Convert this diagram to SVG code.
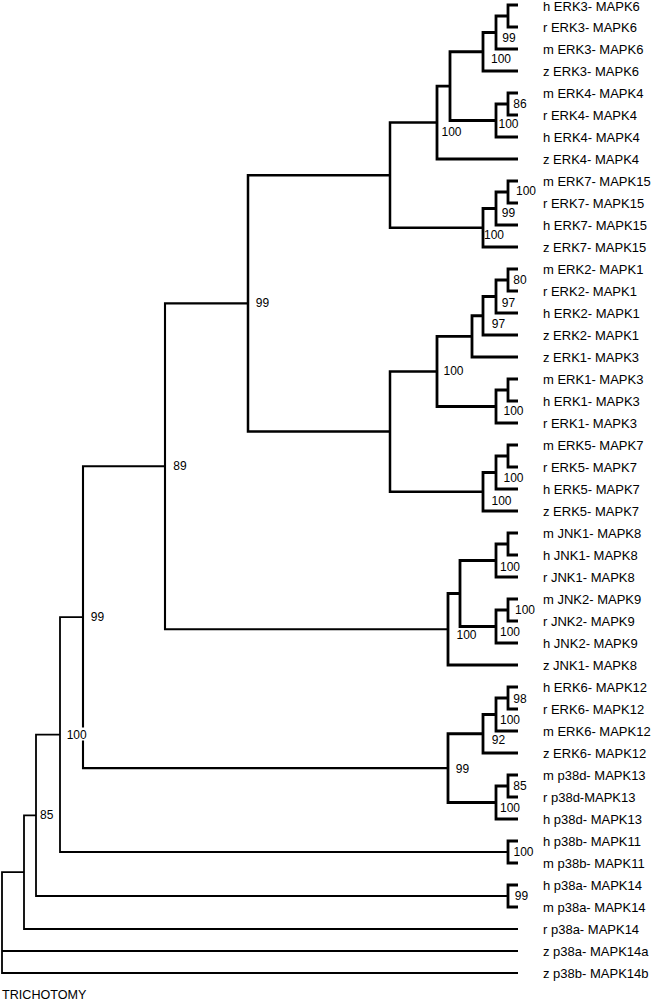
<svg xmlns="http://www.w3.org/2000/svg" width="652" height="1000" viewBox="0 0 652 1000">
<style>
  .c path { fill: none; stroke: #000; stroke-linejoin: miter; stroke-linecap: butt; }
  .t { stroke-width: 2.8; }
  .m { stroke-width: 2.5; }
  .s { stroke-width: 2.1; }
  .b { stroke-width: 1.8; }
  .leaf text { font-family: "Liberation Sans", Arial, sans-serif; font-size: 13px; fill: #000; }
  .bs text { font-family: "Liberation Sans", Arial, sans-serif; font-size: 12px; fill: #000; text-anchor: middle; }
  .note { font-family: "Liberation Sans", Arial, sans-serif; font-size: 12.6px; fill: #000; }
</style>
<rect width="652" height="1000" fill="#fff"/>
<g id="connectors" class="c">
  <path class="t" d="M518 5 H508 V27 H518"/>
  <path class="t" d="M508 16 H496 V49 H518"/>
  <path class="t" d="M496 32.5 H483 V71 H518"/>
  <path class="t" d="M518 93 H508 V115 H518"/>
  <path class="t" d="M508 104 H496 V137 H518"/>
  <path class="t" d="M483 51.75 H450 V120.5 H496"/>
  <path class="t" d="M450 86.1 H437 V159 H518"/>
  <path class="t" d="M518 181 H508 V203 H518"/>
  <path class="t" d="M508 192 H496 V225 H518"/>
  <path class="t" d="M496 208.5 H483 V247 H518"/>
  <path class="m" d="M437 122.6 H390 V227.75 H483"/>
  <path class="t" d="M518 269 H508 V291 H518"/>
  <path class="t" d="M508 280 H496 V313 H518"/>
  <path class="t" d="M496 296.5 H483 V335 H518"/>
  <path class="t" d="M483 315.75 H472 V357 H518"/>
  <path class="t" d="M518 379 H508 V401 H518"/>
  <path class="t" d="M508 390 H496 V423 H518"/>
  <path class="t" d="M472 336.4 H437 V406.5 H496"/>
  <path class="t" d="M518 445 H508 V467 H518"/>
  <path class="t" d="M508 456 H496 V489 H518"/>
  <path class="t" d="M496 472.5 H483 V511 H518"/>
  <path class="m" d="M437 371.4 H390 V491.75 H483"/>
  <path class="m" d="M390 175.2 H248 V431.6 H390"/>
  <path class="t" d="M518 533 H508 V555 H518"/>
  <path class="t" d="M508 544 H496 V577 H518"/>
  <path class="t" d="M518 599 H508 V621 H518"/>
  <path class="t" d="M508 610 H496 V643 H518"/>
  <path class="t" d="M496 560.5 H460 V626.5 H496"/>
  <path class="t" d="M460 593.5 H448 V665 H518"/>
  <path class="s" d="M248 303.4 H165 V629.25 H448"/>
  <path class="t" d="M518 687 H508 V709 H518"/>
  <path class="t" d="M508 698 H496 V731 H518"/>
  <path class="t" d="M496 714.5 H483 V753 H518"/>
  <path class="t" d="M518 775 H508 V797 H518"/>
  <path class="t" d="M508 786 H496 V819 H518"/>
  <path class="t" d="M483 733.75 H448 V802.5 H496"/>
  <path class="s" d="M165 466.3 H83 V768.1 H448"/>
  <path class="t" d="M518 841 H508 V863 H518"/>
  <path class="b" d="M83 617.2 H60 V852 H508"/>
  <path class="t" d="M518 885 H508 V907 H518"/>
  <path class="b" d="M60 734.6 H36 V896 H508"/>
  <path class="b" d="M36 815.3 H24 V929 H518"/>
  <path class="b" d="M24 872.2 H2 V973 H518"/>
  <path class="b" d="M2 951 H518"/>
</g>
<g class="leaf">
  <g id="leaf-h-ERK3"><text x="543" y="10.8">h ERK3- MAPK6</text></g>
  <g id="leaf-r-ERK3"><text x="543" y="31.7">r ERK3- MAPK6</text></g>
  <g id="leaf-m-ERK3"><text x="543" y="53.7">m ERK3- MAPK6</text></g>
  <g id="leaf-z-ERK3"><text x="543" y="75.7">z ERK3- MAPK6</text></g>
  <g id="leaf-m-ERK4"><text x="543" y="97.7">m ERK4- MAPK4</text></g>
  <g id="leaf-r-ERK4"><text x="543" y="119.7">r ERK4- MAPK4</text></g>
  <g id="leaf-h-ERK4"><text x="543" y="141.7">h ERK4- MAPK4</text></g>
  <g id="leaf-z-ERK4"><text x="543" y="163.7">z ERK4- MAPK4</text></g>
  <g id="leaf-m-ERK7"><text x="543" y="185.7">m ERK7- MAPK15</text></g>
  <g id="leaf-r-ERK7"><text x="543" y="207.7">r ERK7- MAPK15</text></g>
  <g id="leaf-h-ERK7"><text x="543" y="229.7">h ERK7- MAPK15</text></g>
  <g id="leaf-z-ERK7"><text x="543" y="251.7">z ERK7- MAPK15</text></g>
  <g id="leaf-m-ERK2"><text x="543" y="273.7">m ERK2- MAPK1</text></g>
  <g id="leaf-r-ERK2"><text x="543" y="295.7">r ERK2- MAPK1</text></g>
  <g id="leaf-h-ERK2"><text x="543" y="317.7">h ERK2- MAPK1</text></g>
  <g id="leaf-z-ERK2"><text x="543" y="339.7">z ERK2- MAPK1</text></g>
  <g id="leaf-z-ERK1"><text x="543" y="361.7">z ERK1- MAPK3</text></g>
  <g id="leaf-m-ERK1"><text x="543" y="383.7">m ERK1- MAPK3</text></g>
  <g id="leaf-h-ERK1"><text x="543" y="405.7">h ERK1- MAPK3</text></g>
  <g id="leaf-r-ERK1"><text x="543" y="427.7">r ERK1- MAPK3</text></g>
  <g id="leaf-m-ERK5"><text x="543" y="449.7">m ERK5- MAPK7</text></g>
  <g id="leaf-r-ERK5"><text x="543" y="471.7">r ERK5- MAPK7</text></g>
  <g id="leaf-h-ERK5"><text x="543" y="493.7">h ERK5- MAPK7</text></g>
  <g id="leaf-z-ERK5"><text x="543" y="515.7">z ERK5- MAPK7</text></g>
  <g id="leaf-m-JNK1"><text x="543" y="537.7">m JNK1- MAPK8</text></g>
  <g id="leaf-h-JNK1"><text x="543" y="559.7">h JNK1- MAPK8</text></g>
  <g id="leaf-r-JNK1"><text x="543" y="581.7">r JNK1- MAPK8</text></g>
  <g id="leaf-m-JNK2"><text x="543" y="603.7">m JNK2- MAPK9</text></g>
  <g id="leaf-r-JNK2"><text x="543" y="625.7">r JNK2- MAPK9</text></g>
  <g id="leaf-h-JNK2"><text x="543" y="647.7">h JNK2- MAPK9</text></g>
  <g id="leaf-z-JNK1"><text x="543" y="669.7">z JNK1- MAPK8</text></g>
  <g id="leaf-h-ERK6"><text x="543" y="691.7">h ERK6- MAPK12</text></g>
  <g id="leaf-r-ERK6"><text x="543" y="713.7">r ERK6- MAPK12</text></g>
  <g id="leaf-m-ERK6"><text x="543" y="735.7">m ERK6- MAPK12</text></g>
  <g id="leaf-z-ERK6"><text x="543" y="757.7">z ERK6- MAPK12</text></g>
  <g id="leaf-m-p38d"><text x="543" y="779.7">m p38d- MAPK13</text></g>
  <g id="leaf-r-p38d"><text x="543" y="801.7">r p38d-MAPK13</text></g>
  <g id="leaf-h-p38d"><text x="543" y="823.7">h p38d- MAPK13</text></g>
  <g id="leaf-h-p38b"><text x="543" y="845.7">h p38b- MAPK11</text></g>
  <g id="leaf-m-p38b"><text x="543" y="867.7">m p38b- MAPK11</text></g>
  <g id="leaf-h-p38a"><text x="543" y="889.7">h p38a- MAPK14</text></g>
  <g id="leaf-m-p38a"><text x="543" y="911.7">m p38a- MAPK14</text></g>
  <g id="leaf-r-p38a"><text x="543" y="933.7">r p38a- MAPK14</text></g>
  <g id="leaf-z-p38a"><text x="543" y="955.7">z p38a- MAPK14a</text></g>
  <g id="leaf-z-p38b"><text x="543" y="977.7">z p38b- MAPK14b</text></g>
</g>
<g class="bs">
  <g id="node-erk3-b"><text x="509" y="42.3">99</text></g>
  <g id="node-erk3-c"><text x="501" y="63.3">100</text></g>
  <g id="node-erk4-d"><text x="520" y="108.3">86</text></g>
  <g id="node-erk4-e"><text x="508.5" y="128.3">100</text></g>
  <g id="node-erk34-g"><text x="451.5" y="136">100</text></g>
  <g id="node-erk7-p"><text x="526" y="195.3">100</text></g>
  <g id="node-erk7-q"><text x="508.5" y="217">99</text></g>
  <g id="node-erk7-r"><text x="494" y="238.6">100</text></g>
  <g id="node-erk2-s"><text x="520" y="284.3">80</text></g>
  <g id="node-erk2-t"><text x="508.5" y="306.6">97</text></g>
  <g id="node-erk2-u"><text x="498.5" y="327.6">97</text></g>
  <g id="node-erk1-x"><text x="513.5" y="415.3">100</text></g>
  <g id="node-erk12-y"><text x="453.5" y="375">100</text></g>
  <g id="node-erk5-z2"><text x="513.5" y="482">100</text></g>
  <g id="node-erk5-z3"><text x="501.5" y="505.3">100</text></g>
  <g id="node-j"><text x="262.5" y="307">99</text></g>
  <g id="node-jnk1"><text x="510" y="571">100</text></g>
  <g id="node-jnk2-cherry"><text x="525" y="614.3">100</text></g>
  <g id="node-jnk2"><text x="510" y="636">100</text></g>
  <g id="node-jnk"><text x="466.5" y="639.3">100</text></g>
  <g id="node-k"><text x="180" y="470.3">89</text></g>
  <g id="node-erk6-1"><text x="520" y="702.6">98</text></g>
  <g id="node-erk6-2"><text x="510" y="724.3">100</text></g>
  <g id="node-erk6-3"><text x="498.5" y="744.3">92</text></g>
  <g id="node-p38d-1"><text x="520" y="790.3">85</text></g>
  <g id="node-p38d-2"><text x="510" y="811.6">100</text></g>
  <g id="node-erk6-p38d"><text x="462.5" y="772.6">99</text></g>
  <g id="node-l"><text x="97.5" y="621">99</text></g>
  <g id="node-p38b"><text x="523.5" y="856">100</text></g>
  <g id="node-m"><rect x="67" y="727.5" width="20" height="13" fill="#fff"/><text x="76.7" y="738.6">100</text></g>
  <g id="node-p38a"><text x="521.5" y="900.3">99</text></g>
  <g id="node-n"><text x="46.7" y="819.3">85</text></g>
</g>
<g id="trichotomy"><text class="note" x="2" y="999">TRICHOTOMY</text></g>
</svg>
